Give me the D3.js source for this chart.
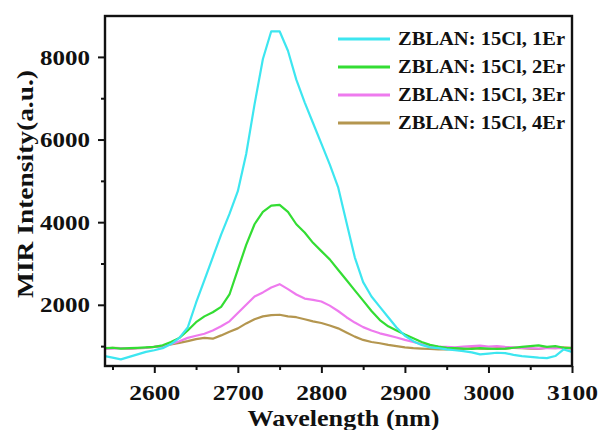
<!DOCTYPE html>
<html>
<head>
<meta charset="utf-8">
<script src="https://cdn.jsdelivr.net/npm/d3@7"></script>
<style>
  body { margin: 0; background: #fff; }
  text { font-family: "Liberation Serif", "Times New Roman", serif; font-weight: bold; fill: #111; }
</style>
</head>
<body>
<script>
// wavelength grid (nm) and intensities
const wavelengths = [2540, 2550, 2560, 2570, 2580, 2590, 2600, 2610, 2620, 2630, 2640, 2650, 2660, 2670, 2680, 2690,
  2700, 2710, 2720, 2730, 2740, 2750, 2760, 2770, 2780, 2790, 2800, 2810, 2820, 2830, 2840, 2850, 2860, 2870, 2880,
  2890, 2900, 2910, 2920, 2930, 2940, 2950, 2960, 2970, 2980, 2990, 3000, 3010, 3020, 3030, 3040, 3050, 3060, 3070,
  3080, 3090, 3100];

const er1 = [760, 720, 680, 740, 800, 860, 900, 950, 1050, 1200, 1450, 2050, 2600, 3150, 3700, 4200,
  4750, 5650, 6850, 7950, 8620, 8620, 8150, 7450, 6900, 6400, 5900, 5400, 4850, 4000, 3150, 2550, 2200, 1950, 1700,
  1450, 1250, 1120, 1030, 970, 950, 920, 900, 880, 850, 800, 820, 840, 830, 790, 760, 740, 720, 710,
  760, 920, 860];

const er2 = [950, 960, 940, 950, 960, 970, 980, 1020, 1100, 1200, 1380, 1580, 1720, 1820, 1950, 2250,
  2850, 3450, 3950, 4250, 4400, 4420, 4250, 3950, 3750, 3500, 3300, 3100, 2850, 2600, 2350, 2100, 1850, 1630, 1480,
  1380, 1280, 1190, 1100, 1030, 990, 960, 950, 940, 930, 950, 940, 930, 940, 960, 980, 1000, 1020, 980,
  1000, 960, 950];

const er3 = [930, 940, 950, 940, 950, 960, 980, 1000, 1050, 1120, 1200, 1250, 1300, 1380, 1480, 1600,
  1800, 2000, 2200, 2300, 2420, 2500, 2380, 2250, 2150, 2120, 2080, 1980, 1850, 1700, 1570, 1460, 1380, 1310, 1260,
  1210, 1150, 1100, 1050, 1010, 990, 980, 970, 990, 1000, 1010, 990, 1000, 980, 970, 960, 950, 940, 950,
  960, 950, 940];

const er4 = [940, 960, 950, 930, 950, 960, 980, 1000, 1040, 1080, 1120, 1170, 1200, 1180, 1260, 1350,
  1430, 1550, 1650, 1720, 1750, 1760, 1720, 1700, 1650, 1600, 1560, 1500, 1430, 1330, 1230, 1150, 1100, 1070, 1030,
  1000, 970, 950, 940, 930, 920, 920, 940, 930, 950, 940, 930, 950, 940, 960, 950, 940, 930, 960,
  950, 970, 960];

const seriesNames = ["ZBLAN: 15Cl, 1Er", "ZBLAN: 15Cl, 2Er", "ZBLAN: 15Cl, 3Er", "ZBLAN: 15Cl, 4Er"];
const seriesColors = ["#3de6f0", "#33dd33", "#ee7aee", "#b4964f"];
const xTicks = [2600, 2700, 2800, 2900, 3000, 3100];
const yTicks = [2000, 4000, 6000, 8000];

const allSeries = [er1, er2, er3, er4];

const width = 600, height = 430;
const plotLeft = 105, plotRight = 572, plotTop = 16, plotBottom = 366;

const svg = d3.select("body").append("svg")
  .attr("width", width)
  .attr("height", height);

const x = d3.scaleLinear().domain([2541, 3100]).range([plotLeft, plotRight]);
const y = d3.scaleLinear().domain([519, 8990]).range([plotBottom, plotTop]);

// curves
const line = d3.line()
  .x((d, i) => x(wavelengths[i]))
  .y(d => y(d));

svg.append("clipPath").attr("id", "plotclip")
  .append("rect")
  .attr("x", plotLeft).attr("y", plotTop)
  .attr("width", plotRight - plotLeft).attr("height", plotBottom - plotTop);

// draw 4Er first so cyan ends on top
svg.append("g").attr("clip-path", "url(#plotclip)")
  .selectAll("path")
  .data(allSeries.map((s, i) => ({ s, i })).reverse())
  .enter().append("path")
  .attr("d", d => line(d.s))
  .attr("fill", "none")
  .attr("stroke", d => seriesColors[d.i])
  .attr("stroke-width", 2.2)
  .attr("stroke-linejoin", "round");

// axes
const xAxis = svg.append("g")
  .attr("transform", `translate(0,${plotBottom})`)
  .call(d3.axisBottom(x).tickValues(xTicks).tickFormat(d3.format("d")).tickSize(7).tickSizeOuter(0));
svg.append("g")
  .attr("transform", `translate(0,${plotBottom})`)
  .call(d3.axisBottom(x).tickValues([2550, 2650, 2750, 2850, 2950, 3050]).tickSize(4).tickFormat(""));

const yAxis = svg.append("g")
  .attr("transform", `translate(${plotLeft},0)`)
  .call(d3.axisLeft(y).tickValues(yTicks).tickFormat(d3.format("d")).tickSize(7).tickSizeOuter(0));
svg.append("g")
  .attr("transform", `translate(${plotLeft},0)`)
  .call(d3.axisLeft(y).tickValues([1000, 3000, 5000, 7000]).tickSize(4).tickFormat(""));

svg.selectAll(".domain").remove();
svg.selectAll(".tick line").attr("stroke", "#111").attr("stroke-width", 2);

xAxis.selectAll("text")
  .attr("y", 34).attr("dy", null)
  .style("font-size", "21px")
  .attr("textLength", 51)
  .attr("lengthAdjust", "spacingAndGlyphs");

yAxis.selectAll("text")
  .attr("dy", "0.34em")
  .style("font-size", "21px")
  .attr("x", -15)
  .attr("textLength", 50)
  .attr("lengthAdjust", "spacingAndGlyphs");

// frame
svg.append("rect")
  .attr("x", plotLeft).attr("y", plotTop)
  .attr("width", plotRight - plotLeft).attr("height", plotBottom - plotTop)
  .attr("fill", "none")
  .attr("stroke", "#111")
  .attr("stroke-width", 2.4);

// axis titles
svg.append("text")
  .attr("x", (plotLeft + plotRight) / 2 + 5)
  .attr("y", 426)
  .attr("text-anchor", "middle")
  .style("font-size", "24px")
  .attr("textLength", 192)
  .attr("lengthAdjust", "spacingAndGlyphs")
  .text("Wavelength (nm)");

svg.append("text")
  .attr("transform", "translate(33,184) rotate(-90)")
  .attr("text-anchor", "middle")
  .style("font-size", "23px")
  .attr("textLength", 228)
  .attr("lengthAdjust", "spacingAndGlyphs")
  .text("MIR Intensity(a.u.)");

// legend
const legend = svg.append("g");
const rowY = [39, 67, 95, 123];
seriesNames.forEach((name, i) => {
  legend.append("line")
    .attr("x1", 338).attr("x2", 390)
    .attr("y1", rowY[i]).attr("y2", rowY[i])
    .attr("stroke", seriesColors[i])
    .attr("stroke-width", 3);
  legend.append("text")
    .attr("x", 398).attr("y", rowY[i])
    .attr("dy", "0.34em")
    .style("font-size", "19px")
    .attr("textLength", 167)
    .attr("lengthAdjust", "spacingAndGlyphs")
    .text(name);
});
</script>
</body>
</html>
